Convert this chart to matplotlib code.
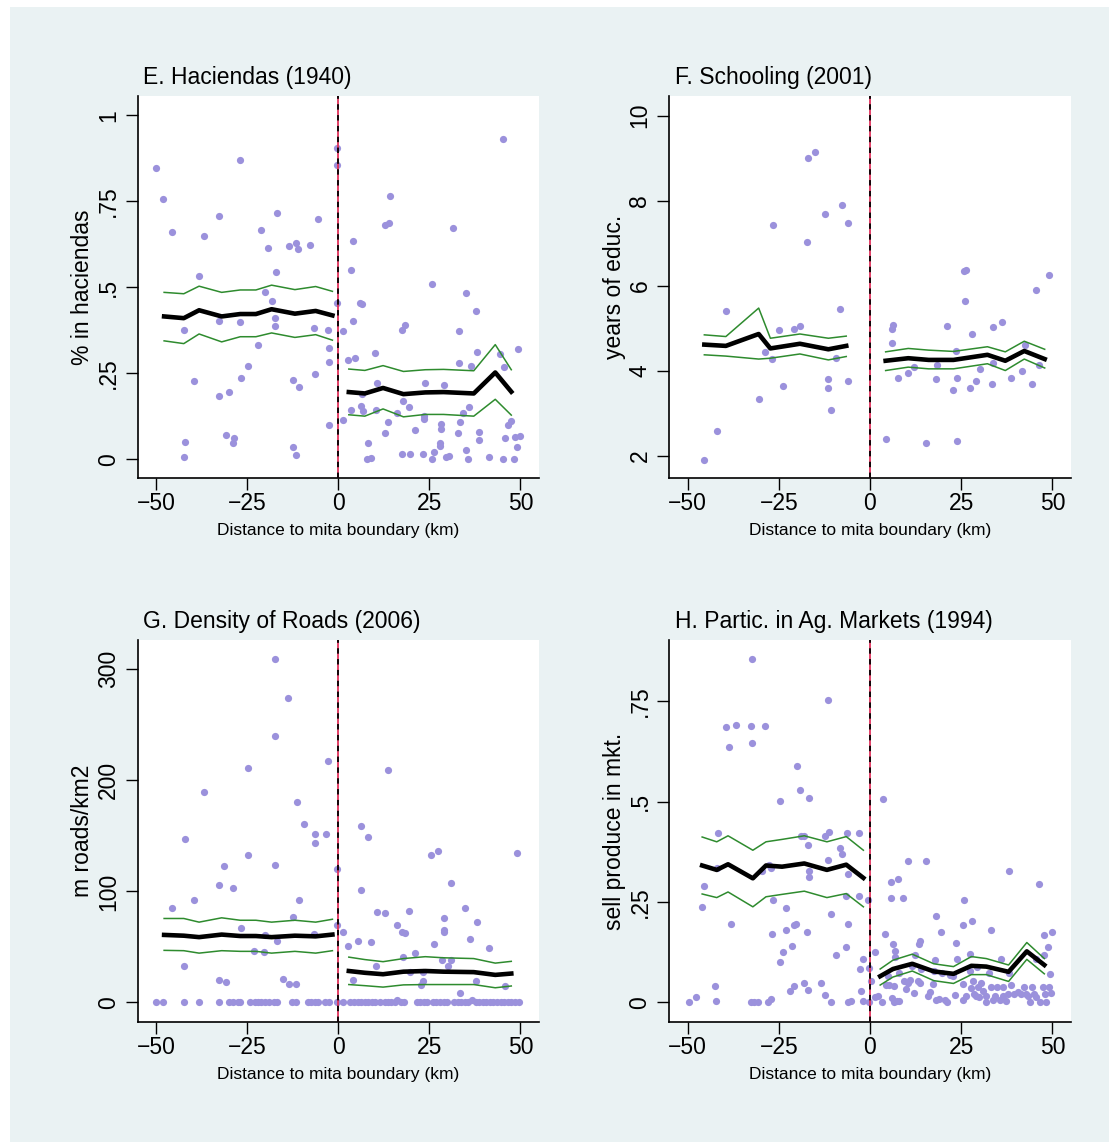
import matplotlib
matplotlib.use("Agg")
import matplotlib.pyplot as plt
from matplotlib.patches import Rectangle

plt.rcParams['font.family'] = ['Liberation Sans', 'DejaVu Sans']

BG = '#eaf2f3'
DOT = '#9b91dc'
GREEN = '#2e8b2e'
XLABEL = 'Distance to mita boundary (km)'
XTICKS = [-50, -25, 0, 25, 50]
XTICKLABELS = ['\u221250', '\u221225', '0', '25', '50']

# ---------------- E. Haciendas (1940) ----------------
e_x = [-49.9, -48.0, -45.5, -36.8, -38.2, -42.4, -39.6, -42.0, -42.4, -32.6,
       -32.8, -32.6, -29.9, -30.8, -28.5, -28.9, -27.1, -26.9, -26.8, -24.7,
       -22.1, -21.2, -20.2, -19.2, -18.3, -17.3, -17.3, -17.1, -16.8, -13.5,
       -11.6, -11.1, -12.4, -10.8, -12.4, -11.6, -7.7, -5.5, -6.7, -6.3,
       -2.9, -2.5, -2.5, -2.5, -0.3, -0.3, -0.3,
       1.2, 1.2, 2.6, 3.5, 4.1, 4.1, 4.7, 3.5, 6.1, 6.5, 6.5, 6.3, 6.8, 8.2,
       8.0, 9.0, 10.0, 10.7, 10.4, 12.8, 13.9, 14.1, 13.6, 12.8, 16.1, 17.6,
       18.3, 17.9, 19.4, 17.6, 19.8, 21.0, 23.2, 23.8, 23.6, 23.6, 25.6, 26.2,
       25.6, 28.2, 28.2, 27.8, 28.0, 29.1, 29.6, 30.4, 31.6, 33.2, 33.2, 32.8,
       33.4, 34.2, 35.0, 35.2, 36.0, 35.7, 36.5, 37.7, 38.1, 38.7, 38.7, 41.4,
       44.4, 45.3, 45.5, 45.7, 45.3, 46.5, 47.5, 48.2, 48.5, 49.0, 49.3, 49.9]
e_y = [0.847, 0.756, 0.660, 0.650, 0.533, 0.375, 0.227, 0.051, 0.006, 0.707,
       0.402, 0.183, 0.196, 0.069, 0.061, 0.048, 0.869, 0.400, 0.237, 0.271,
       0.332, 0.667, 0.485, 0.613, 0.461, 0.411, 0.388, 0.543, 0.717, 0.620,
       0.628, 0.612, 0.229, 0.209, 0.036, 0.011, 0.623, 0.699, 0.382, 0.249,
       0.375, 0.324, 0.282, 0.100, 0.905, 0.856, 0.453,
       0.373, 0.115, 0.288, 0.549, 0.634, 0.402, 0.293, 0.143, 0.455, 0.450,
       0.189, 0.154, 0.140, 0.047, 0.000, 0.002, 0.310, 0.222, 0.143, 0.681,
       0.688, 0.764, 0.108, 0.077, 0.135, 0.376, 0.391, 0.168, 0.153, 0.014,
       0.014, 0.084, 0.014, 0.220, 0.126, 0.117, 0.508, 0.021, 0.000, 0.101,
       0.089, 0.047, 0.038, 0.216, 0.006, 0.008, 0.673, 0.372, 0.279, 0.077,
       0.108, 0.134, 0.482, 0.028, 0.153, 0.000, 0.271, 0.432, 0.311, 0.078,
       0.057, 0.007, 0.305, 0.930, 0.268, 0.061, 0.000, 0.099, 0.112, 0.000,
       0.063, 0.034, 0.320, 0.068]
e_lx = [-47.8, -42.4, -38.2, -32.0, -26.9, -22.6, -18.3, -11.9, -6.2, -1.6]
e_lmean = [0.415, 0.410, 0.433, 0.415, 0.422, 0.422, 0.436, 0.423, 0.431, 0.418]
e_lhi = [0.485, 0.481, 0.503, 0.485, 0.492, 0.492, 0.506, 0.493, 0.502, 0.488]
e_llo = [0.344, 0.336, 0.364, 0.341, 0.356, 0.356, 0.367, 0.354, 0.362, 0.346]
e_rx = [2.9, 7.3, 12.3, 17.9, 23.9, 28.9, 37.2, 43.1, 47.5]
e_rmean = [0.195, 0.191, 0.207, 0.189, 0.194, 0.195, 0.191, 0.252, 0.196]
e_rhi = [0.262, 0.258, 0.272, 0.255, 0.260, 0.261, 0.257, 0.333, 0.260]
e_rlo = [0.129, 0.125, 0.146, 0.123, 0.130, 0.130, 0.125, 0.174, 0.128]

# ---------------- F. Schooling (2001) ----------------
f_x = [-45.4, -41.8, -39.5, -30.5, -28.8, -26.8, -26.7, -23.9, -24.8, -20.7,
       -19.1, -17.2, -17.0, -15.1, -12.3, -11.4, -11.4, -10.6, -9.2, -8.2,
       -7.6, -6.1, -6.0,
       4.3, 6.1, 6.0, 6.3, 7.8, 10.5, 12.1, 15.3, 18.0, 18.4, 21.1, 22.7,
       23.5, 23.9, 23.9, 25.8, 26.3, 26.0, 27.4, 28.0, 29.0, 30.2, 33.4, 33.7,
       33.7, 36.1, 38.6, 41.7, 42.5, 44.4, 45.4, 46.4, 49.1]
f_y = [1.89, 2.57, 5.40, 3.34, 4.44, 4.28, 7.42, 3.63, 4.95, 4.97,
       5.05, 7.03, 9.00, 9.15, 7.68, 3.81, 3.58, 3.08, 4.29, 5.45,
       7.89, 7.47, 3.75,
       2.38, 4.64, 4.97, 5.07, 3.82, 3.95, 4.08, 2.29, 3.79, 4.12, 5.05, 3.54,
       4.45, 3.83, 2.34, 6.34, 6.37, 5.63, 3.60, 4.86, 3.76, 4.04, 3.68, 4.17,
       5.02, 5.15, 3.83, 4.00, 4.61, 3.69, 5.89, 4.12, 6.24]
f_lx = [-45.4, -39.5, -30.5, -27.3, -19.2, -11.4, -6.5]
f_lmean = [4.61, 4.58, 4.86, 4.52, 4.63, 4.50, 4.58]
f_lhi = [4.84, 4.80, 5.47, 4.76, 4.86, 4.76, 4.81]
f_llo = [4.37, 4.34, 4.27, 4.29, 4.39, 4.25, 4.33]
f_rx = [4.3, 10.5, 16.1, 22.9, 32.2, 37.1, 42.3, 47.9]
f_rmean = [4.23, 4.29, 4.25, 4.25, 4.37, 4.23, 4.46, 4.27]
f_rhi = [4.44, 4.52, 4.48, 4.45, 4.56, 4.44, 4.69, 4.50]
f_rlo = [4.00, 4.08, 4.04, 4.04, 4.16, 4.00, 4.27, 4.06]

# ---------------- G. Density of Roads (2006) ----------------
g_x = [-45.5, -42.0, -42.4, -39.6, -36.8, -32.6, -31.4, -32.6, -30.8, -28.9,
       -26.8, -24.7, -24.9, -23.2, -20.4, -20.0, -17.3, -17.3, -17.3, -16.8,
       -15.1, -13.7, -13.5, -12.4, -11.6, -11.4, -10.8, -9.4, -6.3, -6.3,
       -6.7, -3.3, -2.9, -0.4, -0.4,
       -49.9, -48.1, -42.4, -38.2, -32.6, -30.0, -28.9, -27.6, -26.9, -24.1,
       -22.9, -21.9, -21.1, -20.2, -19.0, -17.7, -16.8, -12.6, -11.6, -8.4,
       -7.5, -6.5, -5.5, -3.5, -2.5, -0.4,
       1.2, 2.6, 4.1, 5.5, 6.3, 6.3, 8.2, 8.9, 10.4, 10.7, 12.9, 13.6, 16.0,
       17.5, 18.3, 17.9, 19.4, 19.7, 21.0, 22.6, 23.2, 23.4, 25.5, 27.4, 26.3,
       28.5, 29.0, 28.9, 29.0, 31.0, 31.0, 30.2, 33.4, 34.9, 36.1, 37.7, 38.2,
       41.4, 45.7, 49.0, 16.1, 36.7,
       1.2, 3.3, 4.3, 5.3, 6.3, 7.3, 8.2, 9.2, 10.2, 11.4, 12.7, 13.6, 14.6,
       15.6, 17.1, 18.1, 21.5, 22.5, 23.5, 24.4, 25.9, 26.9, 27.9, 28.9, 29.8,
       31.8, 32.8, 33.8, 34.7, 35.7, 37.7, 38.7, 39.6, 40.6, 41.6, 42.6, 43.6,
       44.6, 45.5, 46.5, 47.5, 48.5, 49.5]
g_y = [84.9, 147.6, 33.1, 92.6, 189.4, 105.5, 122.8, 20.3, 18.0, 102.9,
       66.6, 211.3, 132.8, 46.0, 45.3, 61.1, 309.0, 239.9, 123.5, 55.0,
       21.5, 274.3, 16.4, 76.8, 17.0, 180.1, 92.3, 160.8, 151.4, 143.4,
       61.4, 151.4, 217.4, 120.6, 69.8,
       0, 0, 0, 0, 0, 0, 0, 0, 0, 0,
       0, 0, 0, 0, 0, 0, 0, 0, 0, 0,
       0, 0, 0, 0, 0, 0,
       63.0, 50.8, 20.3, 55.3, 159.2, 101.6, 148.9, 54.0, 32.5, 81.4, 80.1,
       209.6, 69.8, 63.0, 62.4, 41.2, 82.3, 27.7, 44.7, 15.8, 27.7, 19.0,
       132.8, 136.3, 52.4, 38.6, 75.9, 65.3, 63.3, 108.0, 38.6, 33.1, 8.4,
       84.6, 57.2, 19.0, 72.7, 48.6, 14.8, 134.4, 2.6, 2.6,
       0, 0, 0, 0, 0, 0, 0, 0, 0, 0, 0, 0, 0,
       0, 0, 0, 0, 0, 0, 0, 0, 0, 0, 0, 0,
       0, 0, 0, 0, 0, 0, 0, 0, 0, 0, 0, 0,
       0, 0, 0, 0, 0, 0]
g_lx = [-47.8, -42.4, -38.2, -32.0, -26.9, -22.6, -18.3, -11.9, -6.2, -1.6]
g_lmean = [60.8, 60.1, 58.8, 61.1, 59.8, 59.8, 58.8, 60.1, 59.5, 61.1]
g_lhi = [75.6, 75.6, 72.3, 76.2, 74.0, 74.0, 72.3, 74.0, 72.3, 74.9]
g_llo = [46.9, 46.6, 44.4, 46.6, 46.0, 46.0, 44.4, 46.0, 44.4, 46.6]
g_rx = [2.9, 7.3, 12.3, 17.9, 23.9, 28.9, 37.2, 43.1, 47.5]
g_rmean = [28.3, 26.7, 25.4, 27.7, 28.3, 27.7, 27.3, 24.8, 26.0]
g_rhi = [40.8, 38.6, 36.7, 39.5, 41.2, 40.2, 39.5, 35.4, 37.0]
g_rlo = [16.1, 15.1, 13.8, 15.8, 16.1, 16.1, 16.1, 13.2, 14.8]

# ---------------- H. Partic. in Ag. Markets (1994) ----------------
h_x = [-49.6, -47.8, -46.0, -45.4, -42.4, -42.3, -42.0, -41.7, -39.5, -38.7,
       -38.1, -36.7, -32.7, -32.3, -32.4, -32.6, -31.7, -30.7, -28.8, -29.7,
       -28.0, -27.0, -27.8, -27.2, -26.6, -26.8, -24.7, -24.6, -23.9, -22.9,
       -22.9, -21.9, -21.4, -20.8, -20.7, -20.4, -20.0, -19.2, -19.0, -18.0,
       -18.0, -17.2, -17.0, -17.0, -16.7, -16.8, -16.6, -13.3, -12.3, -12.3,
       -11.5, -11.4, -11.2, -10.8, -10.7, -9.4, -8.2, -7.6, -6.7, -6.5,
       -6.3, -6.1, -6.1, -6.1, -5.3, -3.1, -3.0, -2.7, -2.5, -2.0,
       -1.8, -0.4, -0.3, -0.3,
       0.3, 1.4, 1.4, 2.3, 3.3, 3.5, 4.1, 4.3, 4.9, 5.3, 5.7, 5.9, 6.1, 6.3,
       6.5, 6.7, 7.0, 7.0, 7.4, 7.8, 8.0, 8.0, 9.0, 9.2, 9.8, 10.4, 10.4,
       11.0, 11.4, 12.1, 12.3, 13.1, 13.5, 13.7, 13.7, 14.1, 15.3, 16.0, 16.5,
       17.2, 17.6, 17.8, 18.2, 18.2, 19.0, 19.6, 19.8, 20.5, 21.1, 21.9, 22.9,
       23.3, 23.5, 23.9, 25.4, 25.6, 25.8, 25.6, 26.4, 27.3, 27.4, 27.6, 28.0,
       28.3, 28.6, 29.0, 29.3, 29.5, 29.9, 30.5, 30.9, 31.7, 31.9, 32.7, 33.2,
       33.3, 33.7, 34.4, 34.8, 35.6, 35.8, 36.4, 36.6, 37.2, 37.8, 38.2, 38.2,
       38.7, 39.5, 40.5, 41.5, 42.1, 42.7, 43.4, 44.0, 44.4, 44.9, 45.4, 45.6,
       46.4, 46.6, 47.4, 47.6, 47.7, 47.9, 48.3, 48.9, 49.1, 49.3, 49.5, 49.9]
h_y = [0.000, 0.013, 0.238, 0.291, 0.041, 0.004, 0.334, 0.422, 0.686, 0.636,
       0.196, 0.691, 0.689, 0.646, 0.855, 0.000, 0.000, 0.000, 0.689, 0.327,
       0.000, 0.009, 0.343, 0.334, 0.254, 0.170, 0.501, 0.100, 0.125, 0.236,
       0.179, 0.028, 0.141, 0.041, 0.192, 0.195, 0.590, 0.528, 0.415, 0.415,
       0.047, 0.174, 0.393, 0.031, 0.509, 0.327, 0.312, 0.049, 0.019, 0.414,
       0.354, 0.754, 0.424, 0.000, 0.221, 0.118, 0.385, 0.370, 0.137, 0.264,
       0.421, 0.196, 0.321, 0.000, 0.003, 0.421, 0.266, 0.082, 0.028, 0.109,
       0.004, 0.255, 0.085, 0.000,
       0.052, 0.126, 0.014, 0.016, 0.000, 0.507, 0.170, 0.043, 0.065, 0.043,
       0.261, 0.300, 0.010, 0.145, 0.041, 0.000, 0.127, 0.114, 0.004, 0.307,
       0.074, 0.004, 0.261, 0.052, 0.032, 0.353, 0.047, 0.056, 0.090, 0.022,
       0.118, 0.052, 0.145, 0.152, 0.047, 0.083, 0.351, 0.016, 0.025, 0.045,
       0.077, 0.105, 0.214, 0.007, 0.009, 0.174, 0.072, 0.005, 0.000, 0.069,
       0.065, 0.018, 0.149, 0.109, 0.192, 0.046, 0.256, 0.007, 0.016, 0.120,
       0.078, 0.036, 0.203, 0.053, 0.020, 0.016, 0.087, 0.038, 0.012, 0.047,
       0.029, 0.000, 0.016, 0.074, 0.038, 0.179, 0.007, 0.016, 0.038, 0.007,
       0.109, 0.016, 0.038, 0.003, 0.020, 0.327, 0.074, 0.043, 0.020, 0.025,
       0.020, 0.038, 0.020, 0.016, 0.000, 0.038, 0.020, 0.109, 0.012, 0.296,
       0.000, 0.038, 0.118, 0.167, 0.020, 0.000, 0.138, 0.038, 0.071, 0.022,
       0.176]
h_lx = [-46.0, -42.0, -38.9, -32.1, -28.5, -24.1, -18.0, -11.8, -6.5, -1.8]
h_lmean = [0.341, 0.330, 0.344, 0.309, 0.341, 0.338, 0.346, 0.330, 0.343, 0.310]
h_lhi = [0.412, 0.400, 0.415, 0.379, 0.400, 0.406, 0.415, 0.400, 0.413, 0.379]
h_llo = [0.270, 0.261, 0.275, 0.238, 0.263, 0.269, 0.277, 0.261, 0.271, 0.238]
h_rx = [2.8, 6.3, 11.6, 17.5, 22.9, 27.8, 31.9, 38.0, 43.0, 47.8]
h_rmean = [0.065, 0.083, 0.096, 0.077, 0.071, 0.091, 0.089, 0.076, 0.127, 0.093]
h_rhi = [0.083, 0.105, 0.120, 0.096, 0.089, 0.114, 0.109, 0.093, 0.149, 0.109]
h_rlo = [0.043, 0.063, 0.078, 0.054, 0.047, 0.069, 0.069, 0.052, 0.107, 0.071]


def draw_panel(ax, title, ylabel, sx, sy, left, right, ylim, yticks, yticklabels):
    ax.set_facecolor('white')
    ax.plot(sx, sy, 'o', color=DOT, markersize=5.2, markeredgewidth=0, zorder=2)
    for lx, mean, hi, lo in (left, right):
        ax.plot(lx, hi, color=GREEN, lw=1.1, zorder=3)
        ax.plot(lx, lo, color=GREEN, lw=1.1, zorder=3)
        ax.plot(lx, mean, color='black', lw=3.3, zorder=4)
    # cutoff line: red with black dashes on top
    ax.axvline(0, color='#e0305a', lw=1.3, zorder=5)
    ax.axvline(0, color='black', lw=1.3, ls=(0, (3, 3)), zorder=6)

    ax.set_xlim(-55.1, 55.1)
    ax.set_ylim(*ylim)
    ax.set_xticks(XTICKS, XTICKLABELS)
    ax.set_yticks(yticks, yticklabels, rotation=90, va='center')
    ax.tick_params(axis='x', length=8.6, width=1, labelsize=16.5, pad=1.5)
    ax.tick_params(axis='y', length=8.6, width=1, labelsize=16.5, pad=4)
    for s in ('top', 'right'):
        ax.spines[s].set_visible(False)
    for s in ('left', 'bottom'):
        ax.spines[s].set_linewidth(1.2)
    ax.set_xlabel(XLABEL, fontsize=12.5, labelpad=6)
    ax.set_ylabel(ylabel, fontsize=16.5, labelpad=2)
    ax.text(0.014, 1.032, title, transform=ax.transAxes, fontsize=16.5,
            ha='left', va='baseline')


fig = plt.figure(figsize=(11.09, 11.42), dpi=100)
fig.patch.set_facecolor('white')
fig.patches.append(Rectangle((10 / 1109, 0), 1, 1 - 7 / 1142, transform=fig.transFigure,
                             facecolor=BG, edgecolor='none', zorder=-10))

ax_e = fig.add_axes([0.124, 0.5814, 0.362, 0.3345])
ax_f = fig.add_axes([0.6032, 0.5814, 0.3625, 0.3345])
ax_g = fig.add_axes([0.124, 0.1051, 0.362, 0.3345])
ax_h = fig.add_axes([0.6032, 0.1051, 0.3625, 0.3345])

draw_panel(ax_e, 'E. Haciendas (1940)', '% in haciendas', e_x, e_y,
           (e_lx, e_lmean, e_lhi, e_llo), (e_rx, e_rmean, e_rhi, e_rlo),
           (-0.055, 1.056), [0, 0.25, 0.5, 0.75, 1], ['0', '.25', '.5', '.75', '1'])
draw_panel(ax_f, 'F. Schooling (2001)', 'years of educ.', f_x, f_y,
           (f_lx, f_lmean, f_lhi, f_llo), (f_rx, f_rmean, f_rhi, f_rlo),
           (1.47, 10.46), [2, 4, 6, 8, 10], ['2', '4', '6', '8', '10'])
draw_panel(ax_g, 'G. Density of Roads (2006)', 'm roads/km2', g_x, g_y,
           (g_lx, g_lmean, g_lhi, g_llo), (g_rx, g_rmean, g_rhi, g_rlo),
           (-17.6, 326.4), [0, 100, 200, 300], ['0', '100', '200', '300'])
draw_panel(ax_h, 'H. Partic. in Ag. Markets (1994)', 'sell produce in mkt.', h_x, h_y,
           (h_lx, h_lmean, h_lhi, h_llo), (h_rx, h_rmean, h_rhi, h_rlo),
           (-0.049, 0.903), [0, 0.25, 0.5, 0.75], ['0', '.25', '.5', '.75'])

fig.savefig('out.png', dpi=100)
